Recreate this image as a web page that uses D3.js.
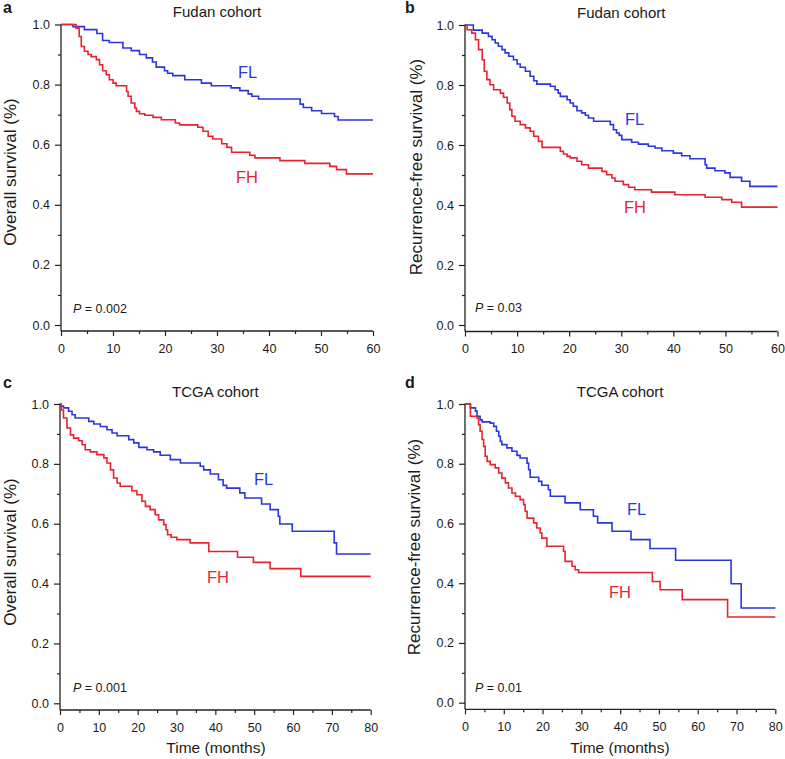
<!DOCTYPE html>
<html><head><meta charset="utf-8">
<script src="https://cdn.jsdelivr.net/npm/d3@7"></script>
<style>body{margin:0;background:#fff} text{font-family:"Liberation Sans",Arial,sans-serif;fill:#1a1a1a}</style>
</head><body><svg id="c" width="785" height="759"></svg>
<script>
// ---- Data (time in months, survival fraction; step after each time) ----
const aFL_t=[0,2.3,4.5,6.9,8.0,9.3,11.9,13.5,15.1,16.4,17.6,18.3,19.9,20.5,21.5,23.8,27.0,28.9,32.7,34.4,36.0,36.7,38.0,46.0,46.6,48.2,50.1,52.6,53.3,60];
const aFL_s=[1,0.993,0.983,0.97,0.947,0.94,0.922,0.913,0.90,0.889,0.875,0.858,0.846,0.838,0.83,0.816,0.805,0.796,0.789,0.78,0.769,0.761,0.752,0.735,0.724,0.713,0.704,0.694,0.682,0.682];
const aFH_t=[0,2.9,3.5,3.9,4.5,5.2,5.8,6.8,7.4,8.0,8.7,9.3,10.0,10.6,12.6,12.9,13.5,14.2,14.5,15.1,16.1,17.7,19.3,22.0,22.8,26.3,27.3,28.3,29.2,30.9,31.9,32.8,36.3,37.3,42.1,46.9,51.7,53.0,54.9,60];
const aFH_s=[1,0.988,0.96,0.927,0.911,0.90,0.893,0.883,0.866,0.846,0.833,0.816,0.805,0.796,0.777,0.761,0.739,0.722,0.711,0.703,0.698,0.691,0.683,0.672,0.666,0.658,0.645,0.628,0.619,0.603,0.591,0.575,0.565,0.556,0.547,0.538,0.528,0.517,0.503,0.503];

const bFL_t=[0,1.6,3.3,4.5,5.2,5.8,6.4,7.1,7.7,8.4,9.3,10.0,10.6,11.6,12.5,13.2,13.8,16.4,17.3,17.9,18.3,19.6,20.2,20.8,21.5,22.4,23.1,23.7,24.7,27.9,28.5,29.1,29.6,30.1,32.0,33.3,35.2,36.5,37.8,40.0,41.6,43.2,46.1,46.4,48.0,49.9,50.9,53.1,54.7,60];
const bFL_s=[1,0.983,0.973,0.962,0.951,0.94,0.929,0.918,0.907,0.896,0.884,0.87,0.859,0.846,0.829,0.814,0.803,0.796,0.784,0.773,0.762,0.751,0.74,0.729,0.714,0.707,0.699,0.69,0.679,0.668,0.651,0.64,0.632,0.618,0.609,0.603,0.596,0.59,0.581,0.573,0.564,0.554,0.534,0.523,0.514,0.507,0.492,0.479,0.462,0.462];
const bFH_t=[0,0.4,1.3,2.0,2.6,3.3,3.7,4.2,4.8,5.5,6.8,7.4,8.1,8.6,9.0,9.6,10.6,11.6,12.5,13.2,14.1,14.8,18.3,18.9,19.6,20.2,21.5,22.4,23.7,26.3,27.2,28.2,28.8,30.4,31.4,32.6,35.8,40.3,46.1,49.3,51.2,53.1,60];
const bFH_s=[1,0.984,0.973,0.951,0.918,0.884,0.846,0.818,0.801,0.784,0.773,0.759,0.74,0.718,0.696,0.679,0.668,0.657,0.646,0.629,0.612,0.592,0.579,0.57,0.562,0.557,0.546,0.534,0.523,0.512,0.501,0.49,0.479,0.468,0.459,0.451,0.443,0.434,0.426,0.418,0.409,0.393,0.393];

const cFL_t=[0,0.3,0.9,2.2,3.1,3.9,7.4,8.7,10.4,12.1,13.4,14.7,17.7,19.0,20.3,22.4,24.1,25.8,28.4,31.0,36.1,37.0,38.7,40.8,42.0,42.9,46.3,47.6,51.9,54.1,56.2,56.6,59.8,70.6,71.2,80];
const cFL_s=[1,0.993,0.987,0.976,0.964,0.953,0.942,0.933,0.925,0.914,0.903,0.894,0.881,0.87,0.855,0.847,0.84,0.829,0.814,0.803,0.792,0.78,0.766,0.747,0.728,0.719,0.703,0.686,0.666,0.647,0.625,0.599,0.575,0.536,0.499,0.499];
const cFH_t=[0,0.3,0.9,1.8,2.7,3.5,4.8,5.7,6.5,7.8,9.5,11.3,12.1,13.0,13.8,14.7,15.5,18.5,19.8,21.1,22.0,23.2,24.5,25.4,26.7,27.3,27.7,28.6,30.1,33.5,38.3,45.7,49.8,54.1,62.0,80];
const cFH_s=[1,0.98,0.953,0.92,0.897,0.886,0.877,0.864,0.847,0.84,0.831,0.82,0.803,0.78,0.753,0.736,0.725,0.71,0.697,0.675,0.658,0.647,0.63,0.613,0.597,0.58,0.563,0.555,0.547,0.536,0.507,0.488,0.471,0.45,0.424,0.424];

const dFL_t=[0,1.4,2.7,3.1,3.9,4.4,6.5,7.4,8.1,8.7,9.1,9.5,10.8,12.1,13.4,14.2,16.0,16.4,16.8,19.0,19.8,21.5,22.0,25.8,29.7,33.1,34.2,37.9,42.8,47.7,54.3,68.6,71.2,80];
const dFL_s=[1,0.987,0.976,0.959,0.947,0.94,0.936,0.925,0.909,0.892,0.875,0.864,0.853,0.842,0.828,0.819,0.802,0.78,0.755,0.741,0.728,0.713,0.691,0.669,0.646,0.624,0.602,0.574,0.546,0.516,0.477,0.398,0.317,0.317];
const dFH_t=[0,1.4,3.1,3.5,3.9,4.4,4.8,5.2,5.7,6.5,7.8,8.7,9.5,10.4,11.2,12.1,13.0,14.2,15.1,15.5,16.0,17.7,18.5,19.4,19.8,21.1,25.4,25.8,27.6,28.4,29.3,48.3,50.3,56.0,67.7,80];
const dFH_s=[1,0.959,0.953,0.931,0.909,0.881,0.858,0.825,0.808,0.797,0.786,0.769,0.752,0.736,0.719,0.702,0.691,0.68,0.663,0.641,0.618,0.602,0.585,0.568,0.551,0.524,0.507,0.473,0.457,0.445,0.436,0.406,0.378,0.345,0.287,0.287];

const panelLetters=["a","b","c","d"];
const panelTitles=["Fudan cohort","Fudan cohort","TCGA cohort","TCGA cohort"];
const yLabels=["Overall survival (%)","Recurrence-free survival (%)","Overall survival (%)","Recurrence-free survival (%)"];
const pValues=["0.002","0.03","0.001","0.01"];
const xMaxes=[60,60,80,80];
const yTickLabels=["0.0","0.2","0.4","0.6","0.8","1.0"];
const groupNames=["FL","FH"];

const series=[
  [[aFL_t,aFL_s],[aFH_t,aFH_s]],
  [[bFL_t,bFL_s],[bFH_t,bFH_s]],
  [[cFL_t,cFL_s],[cFH_t,cFH_s]],
  [[dFL_t,dFL_s],[dFH_t,dFH_s]]
];

// ---- Layout ----
const geo=[
  {x0:61,x1:373,yt:24.5,yb:325,ax:331,ylx:10,yly:172,let:[3,13],ty:17,px:73,py:313,fl:[238,78],fh:[236,183],xl:null},
  {x0:465,x1:777.5,yt:25,yb:325,ax:331.5,ylx:416,yly:167,let:[405,13],ty:18,px:475,py:312,fl:[625,125],fh:[624,213],xl:null},
  {x0:60,x1:370.7,yt:404,yb:703.3,ax:710,ylx:10,yly:552,let:[3,388],ty:396.5,px:73,py:692,fl:[254,485],fh:[207,583],xl:[216,753]},
  {x0:465,x1:775.3,yt:404,yb:702.7,ax:709.3,ylx:414,yly:547,let:[405,388],ty:397,px:475,py:692,fl:[627,515],fh:[609,598],xl:[620,753]}
];
const colors=["#2c36e0","#e8232e"];
const textColors=["#2a3ad6","#e0263a"];
const axisColor="#222";

const svg=d3.select("#c");

series.forEach((ser,i)=>{
  const g=geo[i];
  const x=d3.scaleLinear().domain([0,xMaxes[i]]).range([g.x0,g.x1]);
  const y=d3.scaleLinear().domain([0,1]).range([g.yb,g.yt]);
  const pg=svg.append("g");

  // y axis
  const yMaj=d3.axisLeft(y).tickValues(yTickLabels.map(Number)).tickFormat((d,k)=>yTickLabels[k]).tickSize(6).tickPadding(5).tickSizeOuter(0);
  const ya=pg.append("g").attr("transform",`translate(${g.x0},0)`).call(yMaj);
  ya.select(".domain").remove();
  const yMin=d3.axisLeft(y).tickValues(d3.range(0.1,1,0.2)).tickFormat("").tickSize(3).tickSizeOuter(0);
  const ym=pg.append("g").attr("transform",`translate(${g.x0},0)`).call(yMin);
  ym.select(".domain").remove();
  pg.append("line").attr("x1",g.x0).attr("x2",g.x0).attr("y1",y(1)-0.5).attr("y2",g.ax).attr("stroke",axisColor).attr("stroke-width",1.3);

  // x axis
  const xMaj=d3.axisBottom(x).tickValues(d3.range(0,xMaxes[i]+1,10)).tickSize(5).tickPadding(8).tickSizeOuter(0);
  const xa=pg.append("g").attr("transform",`translate(0,${g.ax})`).call(xMaj);
  xa.select(".domain").remove();
  const xMin=d3.axisBottom(x).tickValues(d3.range(5,xMaxes[i],10)).tickFormat("").tickSize(3).tickSizeOuter(0);
  const xm=pg.append("g").attr("transform",`translate(0,${g.ax})`).call(xMin);
  xm.select(".domain").remove();
  pg.append("line").attr("x1",g.x0).attr("x2",x(xMaxes[i])).attr("y1",g.ax).attr("y2",g.ax).attr("stroke",axisColor).attr("stroke-width",1.3);

  pg.selectAll(".tick line").attr("stroke",axisColor).attr("stroke-width",1.2);
  pg.selectAll(".tick text").style("font-size","12.5px").attr("fill","#1a1a1a").style("font-family",'"Liberation Sans",Arial,sans-serif');

  // curves
  const line=d3.line().x(d=>x(d[0])).y(d=>y(d[1])).curve(d3.curveStepAfter);
  ser.forEach((s,k)=>{
    const pts=s[0].map((t,j)=>[t,s[1][j]]);
    pg.append("path").datum(pts).attr("d",line).attr("fill","none").attr("stroke",colors[k]).attr("stroke-width",1.6);
  });

  // texts
  pg.append("text").attr("x",g.let[0]).attr("y",g.let[1]).text(panelLetters[i]).style("font-size","16px").style("font-weight","bold");
  pg.append("text").attr("x",(g.x0+g.x1)/2).attr("y",g.ty).attr("text-anchor","middle").text(panelTitles[i]).style("font-size","15px");
  pg.append("text").attr("transform",`translate(${g.ylx},${g.yly}) rotate(-90)`).attr("text-anchor","middle").attr("dy","0.35em").text(yLabels[i]).style("font-size","17px");
  const pt=pg.append("text").attr("x",g.px).attr("y",g.py).style("font-size","12.5px");
  pt.append("tspan").style("font-style","italic").text("P");
  pt.append("tspan").text(" = "+pValues[i]);
  pg.append("text").attr("x",g.fl[0]).attr("y",g.fl[1]).text(groupNames[0]).style("font-size","16.5px").style("fill",textColors[0]);
  pg.append("text").attr("x",g.fh[0]).attr("y",g.fh[1]).text(groupNames[1]).style("font-size","16.5px").style("fill",textColors[1]);
  if(g.xl){
    pg.append("text").attr("x",g.xl[0]).attr("y",g.xl[1]).attr("text-anchor","middle").text("Time (months)").style("font-size","15.5px");
  }
});
</script></body></html>
